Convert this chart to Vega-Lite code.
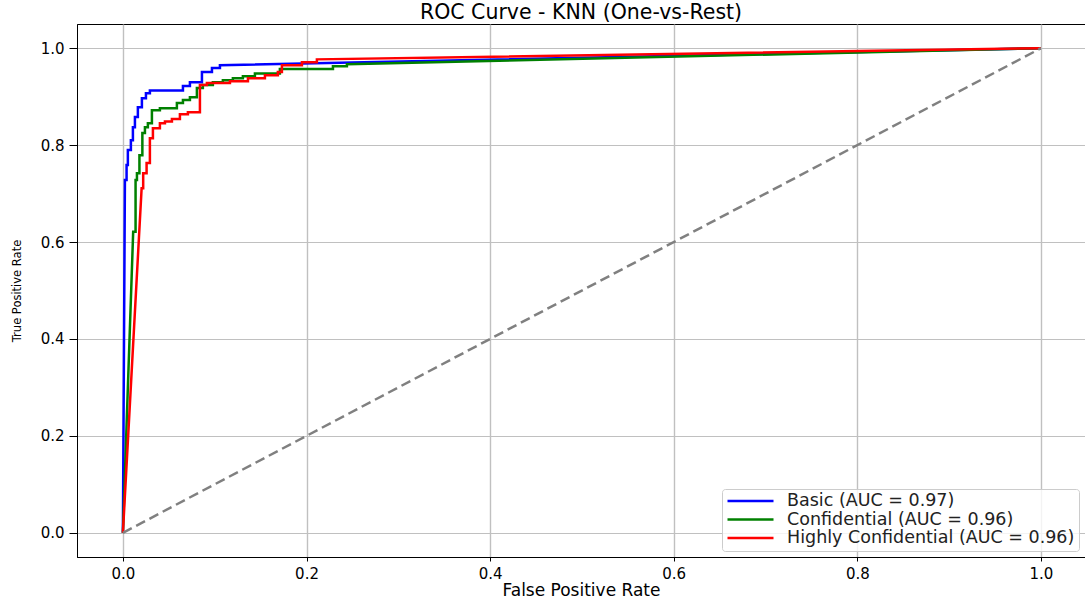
{
  "$schema": "https://vega.github.io/schema/vega-lite/v6.json",
  "autosize": {"type": "none"},
  "width": 1008,
  "height": 533,
  "padding": {"left": 77, "top": 24, "right": 0, "bottom": 41},
  "background": "white",
  "title": {"text": "ROC Curve - KNN (One-vs-Rest)", "fontSize": 20.5, "font": "DejaVu Sans", "fontWeight": "normal", "color": "#000000", "offset": 1, "anchor": "middle"},
  "config": {
    "view": {"stroke": "#000000", "strokeWidth": 1},
    "axis": {"domainColor": "#000000", "tickColor": "#000000", "labelFont": "DejaVu Sans", "labelColor": "#000000", "titleFont": "DejaVu Sans", "titleFontWeight": "normal", "titleColor": "#000000", "gridColor": "#c0c0c0", "gridWidth": 1}
  },
  "datasets": {
    "roc": [
      {"s": "Basic (AUC = 0.97)", "i": 0, "x": 0, "y": 0},
      {"s": "Basic (AUC = 0.97)", "i": 1, "x": 0.0022, "y": 0.728},
      {"s": "Basic (AUC = 0.97)", "i": 2, "x": 0.0040, "y": 0.728},
      {"s": "Basic (AUC = 0.97)", "i": 3, "x": 0.0040, "y": 0.759},
      {"s": "Basic (AUC = 0.97)", "i": 4, "x": 0.0054, "y": 0.759},
      {"s": "Basic (AUC = 0.97)", "i": 5, "x": 0.0054, "y": 0.790},
      {"s": "Basic (AUC = 0.97)", "i": 6, "x": 0.0087, "y": 0.790},
      {"s": "Basic (AUC = 0.97)", "i": 7, "x": 0.0087, "y": 0.810},
      {"s": "Basic (AUC = 0.97)", "i": 8, "x": 0.0109, "y": 0.810},
      {"s": "Basic (AUC = 0.97)", "i": 9, "x": 0.0109, "y": 0.837},
      {"s": "Basic (AUC = 0.97)", "i": 10, "x": 0.0131, "y": 0.837},
      {"s": "Basic (AUC = 0.97)", "i": 11, "x": 0.0131, "y": 0.858},
      {"s": "Basic (AUC = 0.97)", "i": 12, "x": 0.0163, "y": 0.858},
      {"s": "Basic (AUC = 0.97)", "i": 13, "x": 0.0163, "y": 0.878},
      {"s": "Basic (AUC = 0.97)", "i": 14, "x": 0.0207, "y": 0.878},
      {"s": "Basic (AUC = 0.97)", "i": 15, "x": 0.0207, "y": 0.897},
      {"s": "Basic (AUC = 0.97)", "i": 16, "x": 0.0251, "y": 0.897},
      {"s": "Basic (AUC = 0.97)", "i": 17, "x": 0.0251, "y": 0.907},
      {"s": "Basic (AUC = 0.97)", "i": 18, "x": 0.0294, "y": 0.907},
      {"s": "Basic (AUC = 0.97)", "i": 19, "x": 0.0294, "y": 0.913},
      {"s": "Basic (AUC = 0.97)", "i": 20, "x": 0.0654, "y": 0.913},
      {"s": "Basic (AUC = 0.97)", "i": 21, "x": 0.0654, "y": 0.922},
      {"s": "Basic (AUC = 0.97)", "i": 22, "x": 0.0730, "y": 0.922},
      {"s": "Basic (AUC = 0.97)", "i": 23, "x": 0.0730, "y": 0.930},
      {"s": "Basic (AUC = 0.97)", "i": 24, "x": 0.0861, "y": 0.930},
      {"s": "Basic (AUC = 0.97)", "i": 25, "x": 0.0861, "y": 0.951},
      {"s": "Basic (AUC = 0.97)", "i": 26, "x": 0.0970, "y": 0.951},
      {"s": "Basic (AUC = 0.97)", "i": 27, "x": 0.0970, "y": 0.959},
      {"s": "Basic (AUC = 0.97)", "i": 28, "x": 0.1057, "y": 0.959},
      {"s": "Basic (AUC = 0.97)", "i": 29, "x": 0.1057, "y": 0.965},
      {"s": "Basic (AUC = 0.97)", "i": 30, "x": 1.0, "y": 1.0},
      {"s": "Confidential (AUC = 0.96)", "i": 0, "x": 0, "y": 0},
      {"s": "Confidential (AUC = 0.96)", "i": 1, "x": 0.0112, "y": 0.621},
      {"s": "Confidential (AUC = 0.96)", "i": 2, "x": 0.0138, "y": 0.621},
      {"s": "Confidential (AUC = 0.96)", "i": 3, "x": 0.0138, "y": 0.728},
      {"s": "Confidential (AUC = 0.96)", "i": 4, "x": 0.0153, "y": 0.728},
      {"s": "Confidential (AUC = 0.96)", "i": 5, "x": 0.0153, "y": 0.742},
      {"s": "Confidential (AUC = 0.96)", "i": 6, "x": 0.0180, "y": 0.742},
      {"s": "Confidential (AUC = 0.96)", "i": 7, "x": 0.0180, "y": 0.779},
      {"s": "Confidential (AUC = 0.96)", "i": 8, "x": 0.0212, "y": 0.779},
      {"s": "Confidential (AUC = 0.96)", "i": 9, "x": 0.0212, "y": 0.825},
      {"s": "Confidential (AUC = 0.96)", "i": 10, "x": 0.0240, "y": 0.825},
      {"s": "Confidential (AUC = 0.96)", "i": 11, "x": 0.0240, "y": 0.837},
      {"s": "Confidential (AUC = 0.96)", "i": 12, "x": 0.0272, "y": 0.837},
      {"s": "Confidential (AUC = 0.96)", "i": 13, "x": 0.0272, "y": 0.845},
      {"s": "Confidential (AUC = 0.96)", "i": 14, "x": 0.0316, "y": 0.845},
      {"s": "Confidential (AUC = 0.96)", "i": 15, "x": 0.0316, "y": 0.872},
      {"s": "Confidential (AUC = 0.96)", "i": 16, "x": 0.0403, "y": 0.872},
      {"s": "Confidential (AUC = 0.96)", "i": 17, "x": 0.0403, "y": 0.876},
      {"s": "Confidential (AUC = 0.96)", "i": 18, "x": 0.0588, "y": 0.876},
      {"s": "Confidential (AUC = 0.96)", "i": 19, "x": 0.0588, "y": 0.887},
      {"s": "Confidential (AUC = 0.96)", "i": 20, "x": 0.0654, "y": 0.887},
      {"s": "Confidential (AUC = 0.96)", "i": 21, "x": 0.0654, "y": 0.893},
      {"s": "Confidential (AUC = 0.96)", "i": 22, "x": 0.0730, "y": 0.893},
      {"s": "Confidential (AUC = 0.96)", "i": 23, "x": 0.0730, "y": 0.899},
      {"s": "Confidential (AUC = 0.96)", "i": 24, "x": 0.0806, "y": 0.899},
      {"s": "Confidential (AUC = 0.96)", "i": 25, "x": 0.0806, "y": 0.918},
      {"s": "Confidential (AUC = 0.96)", "i": 26, "x": 0.0871, "y": 0.918},
      {"s": "Confidential (AUC = 0.96)", "i": 27, "x": 0.0871, "y": 0.924},
      {"s": "Confidential (AUC = 0.96)", "i": 28, "x": 0.0980, "y": 0.924},
      {"s": "Confidential (AUC = 0.96)", "i": 29, "x": 0.0980, "y": 0.930},
      {"s": "Confidential (AUC = 0.96)", "i": 30, "x": 0.1089, "y": 0.930},
      {"s": "Confidential (AUC = 0.96)", "i": 31, "x": 0.1089, "y": 0.934},
      {"s": "Confidential (AUC = 0.96)", "i": 32, "x": 0.1198, "y": 0.934},
      {"s": "Confidential (AUC = 0.96)", "i": 33, "x": 0.1198, "y": 0.938},
      {"s": "Confidential (AUC = 0.96)", "i": 34, "x": 0.1307, "y": 0.938},
      {"s": "Confidential (AUC = 0.96)", "i": 35, "x": 0.1307, "y": 0.942},
      {"s": "Confidential (AUC = 0.96)", "i": 36, "x": 0.1438, "y": 0.942},
      {"s": "Confidential (AUC = 0.96)", "i": 37, "x": 0.1438, "y": 0.948},
      {"s": "Confidential (AUC = 0.96)", "i": 38, "x": 0.1710, "y": 0.948},
      {"s": "Confidential (AUC = 0.96)", "i": 39, "x": 0.1710, "y": 0.957},
      {"s": "Confidential (AUC = 0.96)", "i": 40, "x": 0.2288, "y": 0.957},
      {"s": "Confidential (AUC = 0.96)", "i": 41, "x": 0.2288, "y": 0.963},
      {"s": "Confidential (AUC = 0.96)", "i": 42, "x": 0.2440, "y": 0.963},
      {"s": "Confidential (AUC = 0.96)", "i": 43, "x": 0.2440, "y": 0.967},
      {"s": "Confidential (AUC = 0.96)", "i": 44, "x": 1.0, "y": 1.0},
      {"s": "Highly Confidential (AUC = 0.96)", "i": 0, "x": 0, "y": 0},
      {"s": "Highly Confidential (AUC = 0.96)", "i": 1, "x": 0.0204, "y": 0.711},
      {"s": "Highly Confidential (AUC = 0.96)", "i": 2, "x": 0.0221, "y": 0.711},
      {"s": "Highly Confidential (AUC = 0.96)", "i": 3, "x": 0.0221, "y": 0.742},
      {"s": "Highly Confidential (AUC = 0.96)", "i": 4, "x": 0.0258, "y": 0.742},
      {"s": "Highly Confidential (AUC = 0.96)", "i": 5, "x": 0.0258, "y": 0.763},
      {"s": "Highly Confidential (AUC = 0.96)", "i": 6, "x": 0.0294, "y": 0.763},
      {"s": "Highly Confidential (AUC = 0.96)", "i": 7, "x": 0.0294, "y": 0.814},
      {"s": "Highly Confidential (AUC = 0.96)", "i": 8, "x": 0.0327, "y": 0.814},
      {"s": "Highly Confidential (AUC = 0.96)", "i": 9, "x": 0.0327, "y": 0.835},
      {"s": "Highly Confidential (AUC = 0.96)", "i": 10, "x": 0.0403, "y": 0.835},
      {"s": "Highly Confidential (AUC = 0.96)", "i": 11, "x": 0.0403, "y": 0.845},
      {"s": "Highly Confidential (AUC = 0.96)", "i": 12, "x": 0.0458, "y": 0.845},
      {"s": "Highly Confidential (AUC = 0.96)", "i": 13, "x": 0.0458, "y": 0.849},
      {"s": "Highly Confidential (AUC = 0.96)", "i": 14, "x": 0.0534, "y": 0.849},
      {"s": "Highly Confidential (AUC = 0.96)", "i": 15, "x": 0.0534, "y": 0.854},
      {"s": "Highly Confidential (AUC = 0.96)", "i": 16, "x": 0.0621, "y": 0.854},
      {"s": "Highly Confidential (AUC = 0.96)", "i": 17, "x": 0.0621, "y": 0.864},
      {"s": "Highly Confidential (AUC = 0.96)", "i": 18, "x": 0.0708, "y": 0.864},
      {"s": "Highly Confidential (AUC = 0.96)", "i": 19, "x": 0.0708, "y": 0.868},
      {"s": "Highly Confidential (AUC = 0.96)", "i": 20, "x": 0.0839, "y": 0.868},
      {"s": "Highly Confidential (AUC = 0.96)", "i": 21, "x": 0.0839, "y": 0.924},
      {"s": "Highly Confidential (AUC = 0.96)", "i": 22, "x": 0.0915, "y": 0.924},
      {"s": "Highly Confidential (AUC = 0.96)", "i": 23, "x": 0.0915, "y": 0.928},
      {"s": "Highly Confidential (AUC = 0.96)", "i": 24, "x": 0.1166, "y": 0.928},
      {"s": "Highly Confidential (AUC = 0.96)", "i": 25, "x": 0.1166, "y": 0.932},
      {"s": "Highly Confidential (AUC = 0.96)", "i": 26, "x": 0.1362, "y": 0.932},
      {"s": "Highly Confidential (AUC = 0.96)", "i": 27, "x": 0.1362, "y": 0.938},
      {"s": "Highly Confidential (AUC = 0.96)", "i": 28, "x": 0.1547, "y": 0.938},
      {"s": "Highly Confidential (AUC = 0.96)", "i": 29, "x": 0.1547, "y": 0.944},
      {"s": "Highly Confidential (AUC = 0.96)", "i": 30, "x": 0.1688, "y": 0.944},
      {"s": "Highly Confidential (AUC = 0.96)", "i": 31, "x": 0.1688, "y": 0.951},
      {"s": "Highly Confidential (AUC = 0.96)", "i": 32, "x": 0.1732, "y": 0.951},
      {"s": "Highly Confidential (AUC = 0.96)", "i": 33, "x": 0.1732, "y": 0.965},
      {"s": "Highly Confidential (AUC = 0.96)", "i": 34, "x": 0.1950, "y": 0.965},
      {"s": "Highly Confidential (AUC = 0.96)", "i": 35, "x": 0.1950, "y": 0.971},
      {"s": "Highly Confidential (AUC = 0.96)", "i": 36, "x": 0.2113, "y": 0.971},
      {"s": "Highly Confidential (AUC = 0.96)", "i": 37, "x": 0.2113, "y": 0.977},
      {"s": "Highly Confidential (AUC = 0.96)", "i": 38, "x": 1.0, "y": 1.0}
    ],
    "diag": [
      {"x": 0, "y": 0},
      {"x": 1, "y": 1}
    ]
  },
  "layer": [
    {
      "data": {"name": "roc"},
      "mark": {"type": "line", "strokeWidth": 2.5, "interpolate": "linear"},
      "encoding": {
        "x": {"field": "x", "type": "quantitative", "scale": {"domain": [-0.05, 1.048], "nice": false, "zero": false},
          "axis": {"values": [0, 0.2, 0.4, 0.6, 0.8, 1.0], "format": ".1f", "title": "False Positive Rate", "titleFontSize": 17, "labelFontSize": 15, "tickSize": 4, "labelPadding": 5, "titlePadding": 1, "grid": true, "gridWidth": 1.4, "labelFlush": false}},
        "y": {"field": "y", "type": "quantitative", "scale": {"domain": [-0.05, 1.05], "nice": false, "zero": false},
          "axis": {"values": [0, 0.2, 0.4, 0.6, 0.8, 1.0], "format": ".1f", "title": "True Positive Rate", "titleFontSize": 11.5, "labelFontSize": 15, "tickSize": 8, "labelPadding": 5, "titlePadding": 18, "grid": true, "labelFlush": false}},
        "color": {"field": "s", "type": "nominal",
          "scale": {"domain": ["Basic (AUC = 0.97)", "Confidential (AUC = 0.96)", "Highly Confidential (AUC = 0.96)"], "range": ["#0000ff", "#008000", "#ff0000"]},
          "legend": {"title": null, "orient": "bottom-right", "offset": 6, "symbolType": "stroke", "symbolSize": 2116, "symbolStrokeWidth": 2.5, "labelFont": "DejaVu Sans", "labelFontSize": 17.5, "labelColor": "#222222", "labelOffset": 12, "clipHeight": 16, "rowPadding": 0.5, "padding": 4, "fillColor": "rgba(255,255,255,0.8)", "strokeColor": "#cccccc", "cornerRadius": 3, "labelLimit": 0}},
        "order": {"field": "i", "type": "quantitative"}
      }
    },
    {
      "data": {"name": "diag"},
      "mark": {"type": "line", "color": "#808080", "strokeWidth": 2.5, "strokeDash": [10, 5]},
      "encoding": {
        "x": {"field": "x", "type": "quantitative"},
        "y": {"field": "y", "type": "quantitative"}
      }
    }
  ]
}
